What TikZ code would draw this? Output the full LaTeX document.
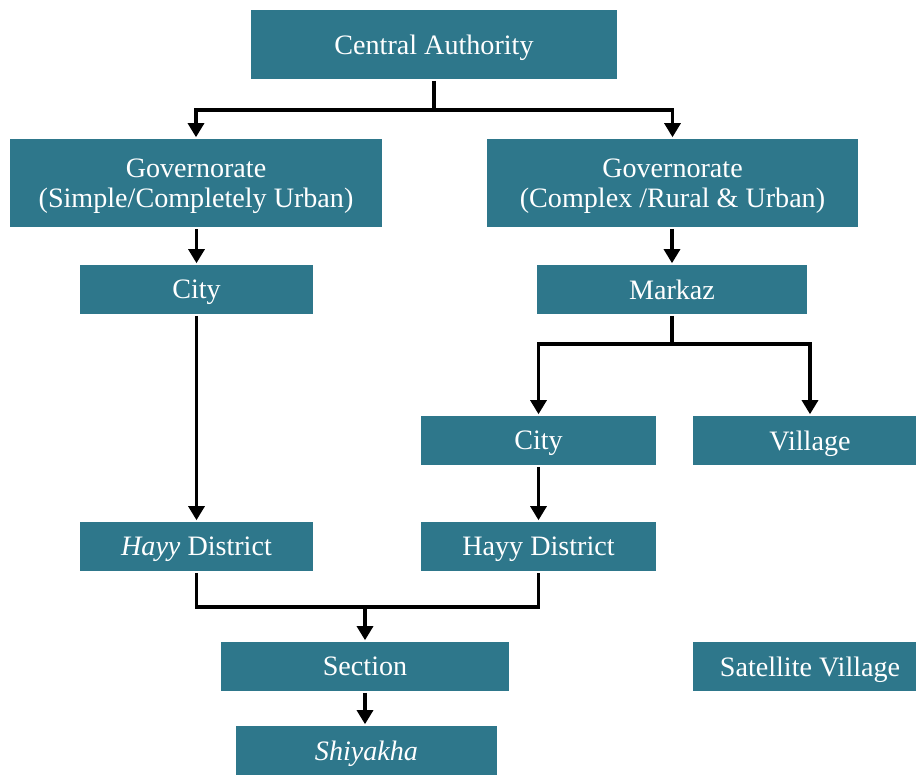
\documentclass[tikz,border=0pt]{standalone}
\usepackage{fontspec}
\setmainfont{Liberation Serif}
\usetikzlibrary{arrows.meta}
\definecolor{boxteal}{RGB}{46,119,139}

\begin{document}
\begin{tikzpicture}[x=0.02cm, y=-0.02cm, line width=2pt, font=\fontsize{16}{17}\selectfont]
    \tikzstyle{unit}=[rectangle, fill=boxteal, text=white, align=center, inner sep=0pt, text depth=0pt]
    \tikzstyle{wide unit}=[unit, minimum width=7.44cm, minimum height=1.76cm]
    \tikzstyle{link}=[draw=black, -{Triangle[width=9pt,length=8pt]}]
    \tikzstyle{plain link}=[draw=black]

    \clip (0,0) rectangle (916,775);
    \useasboundingbox (0,0) rectangle (916,775);

    % Draw the top of the hierarchy
    \node[unit, minimum width=7.32cm, minimum height=1.38cm] (CA) at (434,44.5) {Central Authority};

    % Draw the two kinds of governorate
    \node[wide unit] (G-1) at (196,183) {Governorate\\(Simple/Completely Urban)};
    \node[wide unit] (G-2) at (672.5,183) {Governorate\\(Complex /Rural \& Urban)};

    % Draw the middle levels
    \node[unit, minimum width=4.66cm, minimum height=0.98cm] (C-1) at (196.5,289.5) {City};
    \node[unit, minimum width=5.4cm, minimum height=0.98cm] (M) at (672,289.5) {Markaz};
    \node[unit, minimum width=4.7cm, minimum height=0.98cm] (C-2) at (538.5,440.5) {City};
    \node[unit, minimum width=4.68cm, minimum height=0.98cm] (V) at (810,440.5) {Village};
    \node[unit, minimum width=4.66cm, minimum height=0.98cm] (H-1) at (196.5,546.5) {\textit{Hayy} District};
    \node[unit, minimum width=4.7cm, minimum height=0.98cm] (H-2) at (538.5,546.5) {Hayy District};

    % Draw the lowest levels
    \node[unit, minimum width=5.76cm, minimum height=0.98cm] (S) at (365,666.5) {Section};
    \node[unit, minimum width=5.22cm, minimum height=0.98cm] (SH) at (366.5,750.5) {\textit{Shiyakha}};
    \node[unit, minimum width=4.68cm, minimum height=0.98cm] (SV) at (810,666.5) {Satellite Village};

    % Connect the central authority with both governorates
    \coordinate (CA-fork) at (434,110);
    \draw[plain link] (CA.south) -- (CA-fork);
    \draw[link] (CA-fork) -| (G-1.north);
    \draw[link] (CA-fork) -| (G-2.north);

    % Connect each governorate with its next level
    \draw[link] (G-1.south -| C-1) -- (C-1.north);
    \draw[link] (G-2.south -| M) -- (M.north);

    % Connect the markaz with city and village
    \coordinate (M-fork) at (672,344);
    \draw[plain link] (M.south) -- (M-fork);
    \draw[link] (M-fork) -| (C-2.north);
    \draw[link] (M-fork) -| (V.north);

    % Connect the cities with the districts
    \draw[link] (C-1) -- (H-1.north);
    \draw[link] (C-2) -- (H-2.north);

    % Join both districts into the section
    \coordinate (H-fork) at (365,607);
    \draw[plain link] (H-1.south) |- (H-fork) -| (H-2.south);
    \draw[link] (H-fork) -- (S.north);
    \draw[link] (S.south) -- (S.south |- SH.north);
\end{tikzpicture}
\end{document}
